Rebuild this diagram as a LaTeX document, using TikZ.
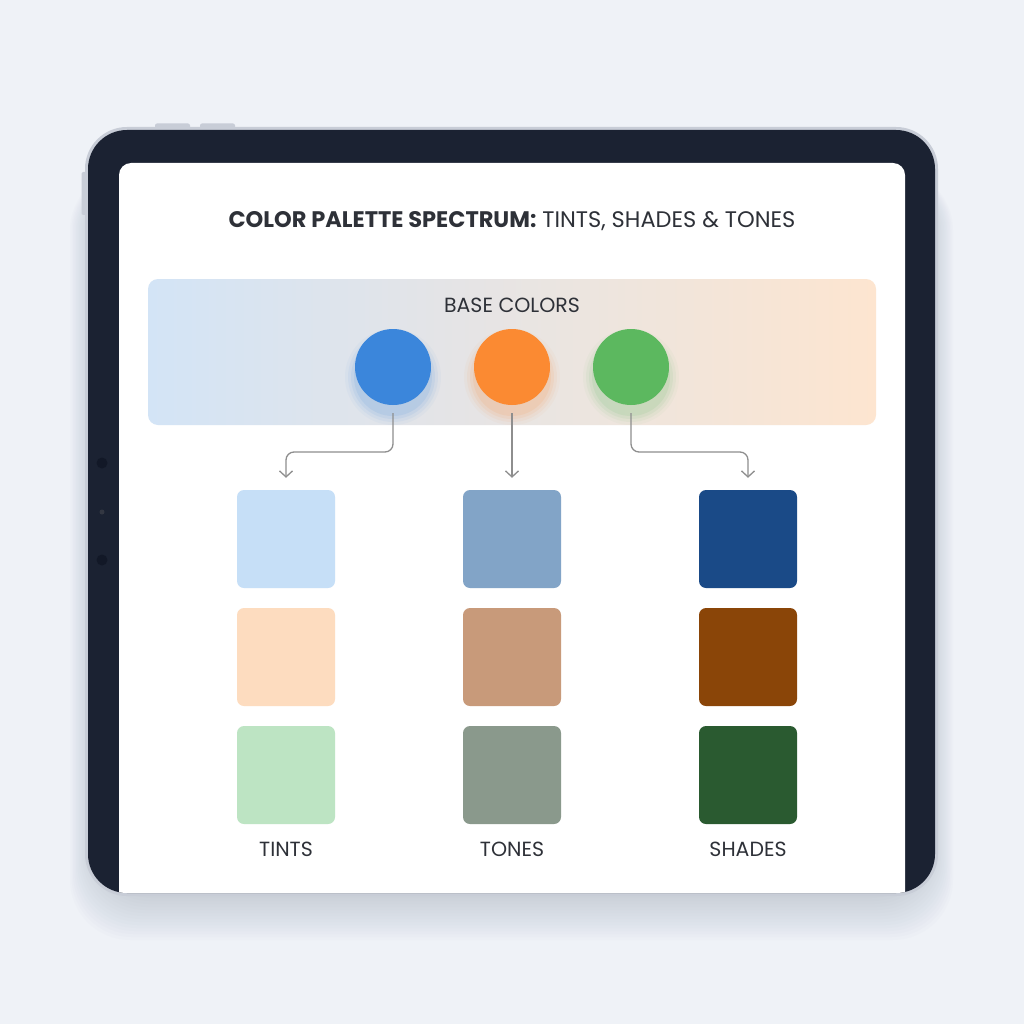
\documentclass[tikz,border=0pt]{standalone}
\usepackage{fontspec}
\setmainfont{Poppins}
\usetikzlibrary{arrows.meta,calc}
\definecolor{bg}{HTML}{EFF2F7}
\definecolor{rim}{HTML}{C8CDD7}
\definecolor{bezel}{HTML}{1B2232}
\definecolor{dotc}{HTML}{121827}
\definecolor{shadowc}{HTML}{8A95AA}
\definecolor{titlec}{HTML}{2E3138}
\definecolor{bandL}{HTML}{D3E4F6}
\definecolor{bandM}{HTML}{E6E7EA}
\definecolor{bandR}{HTML}{FDE5D0}
\definecolor{arrowc}{HTML}{8E8E8E}
\definecolor{cblue}{HTML}{3B86DB}
\definecolor{corange}{HTML}{FB8A32}
\definecolor{cgreen}{HTML}{5CB85F}
\definecolor{tintB}{HTML}{C6DFF7}
\definecolor{tintO}{HTML}{FDDCBF}
\definecolor{tintG}{HTML}{BDE4C3}
\definecolor{toneB}{HTML}{82A4C7}
\definecolor{toneO}{HTML}{C89A7A}
\definecolor{toneG}{HTML}{8A998C}
\definecolor{shadeB}{HTML}{1A4A87}
\definecolor{shadeO}{HTML}{8A4508}
\definecolor{shadeG}{HTML}{2A5A30}
\begin{document}
\begin{tikzpicture}[x=1pt,y=-1pt,
  ball/.style={circle, minimum size=76pt, inner sep=0pt},
  swatch/.style={rectangle, rounded corners=7pt, minimum size=98pt, inner sep=0pt},
  lbl/.style={font=\fontsize{20.5}{22}\selectfont, text=titlec},
  arr/.style={draw=arrowc, line width=1.3pt, rounded corners=8pt, -{Straight Barb[length=6pt,width=13pt]}}]
\useasboundingbox (0,0) rectangle (1024,1024);
\fill[bg] (0,0) rectangle (1024,1024);
% shadow
\foreach \d in {3,6,...,60} {
  \fill[shadowc, opacity=0.022, rounded corners=60pt] ({100-\d*0.5},170) rectangle ({923+\d*0.5},{880+\d});
}
% device
\fill[rim, rounded corners=2pt] (155,123.5) rectangle (190,130);
\fill[rim, rounded corners=2pt] (200,123.5) rectangle (235,130);
\fill[rim, rounded corners=2pt] (81.5,172) rectangle (88,215);
\fill[rim, rounded corners=42pt] (85,127) rectangle (938,896);
\fill[bezel, rounded corners=39pt] (88,130) rectangle (935,893);
\fill[dotc] (102,463) circle (5.5);
\fill[dotc!70!gray] (102,512) circle (2.5);
\fill[dotc] (102,560) circle (5.5);
\begin{scope}
  \clip[rounded corners=39pt] (88,130) rectangle (935,893);
  \fill[white, rounded corners=12pt] (119,163) rectangle (905,940);
\end{scope}
% title
\node[font=\fontsize{22.5}{25}\selectfont, text=titlec] (title) at (512,221)
  {\textbf{COLOR PALETTE SPECTRUM:} TINTS, SHADES \& TONES};
% band
\shade[left color=bandL, middle color=bandM, right color=bandR, rounded corners=10pt]
  (148,279) rectangle (876,425);
\node[lbl] (base) at (512,305) {BASE COLORS};
% glows
\foreach \c/\x in {cblue/393, corange/512, cgreen/631} {
  \foreach \r/\o in {48/0.04, 45/0.06, 42/0.08, 39/0.10} {
    \fill[\c, opacity=\o] (\x,377) circle (\r);
  }
}
% circles
\node[ball, fill=cblue] (cb) at (393,367) {};
\node[ball, fill=corange] (co) at (512,367) {};
\node[ball, fill=cgreen] (cg) at (631,367) {};
% swatches
\node[swatch, fill=tintB] (t1) at (286,539) {};
\node[swatch, fill=tintO] (t2) at (286,657) {};
\node[swatch, fill=tintG] (t3) at (286,775) {};
\node[swatch, fill=toneB] (m1) at (512,539) {};
\node[swatch, fill=toneO] (m2) at (512,657) {};
\node[swatch, fill=toneG] (m3) at (512,775) {};
\node[swatch, fill=shadeB] (s1) at (748,539) {};
\node[swatch, fill=shadeO] (s2) at (748,657) {};
\node[swatch, fill=shadeG] (s3) at (748,775) {};
% connectors
\coordinate (lv) at (0,452);
\draw[arr] ([yshift=-8pt]cb.south) -- (cb.south |- lv) -- (t1.north |- lv) -- ([yshift=12pt]t1.north);
\draw[arr] ([yshift=-8pt]co.south) -- ([yshift=12pt]m1.north);
\draw[arr] ([yshift=-8pt]cg.south) -- (cg.south |- lv) -- (s1.north |- lv) -- ([yshift=12pt]s1.north);
% labels
\node[lbl] (lt) at (286,849) {TINTS};
\node[lbl] (lm) at (512,849) {TONES};
\node[lbl] (ls) at (748,849) {SHADES};
\end{tikzpicture}
\end{document}
